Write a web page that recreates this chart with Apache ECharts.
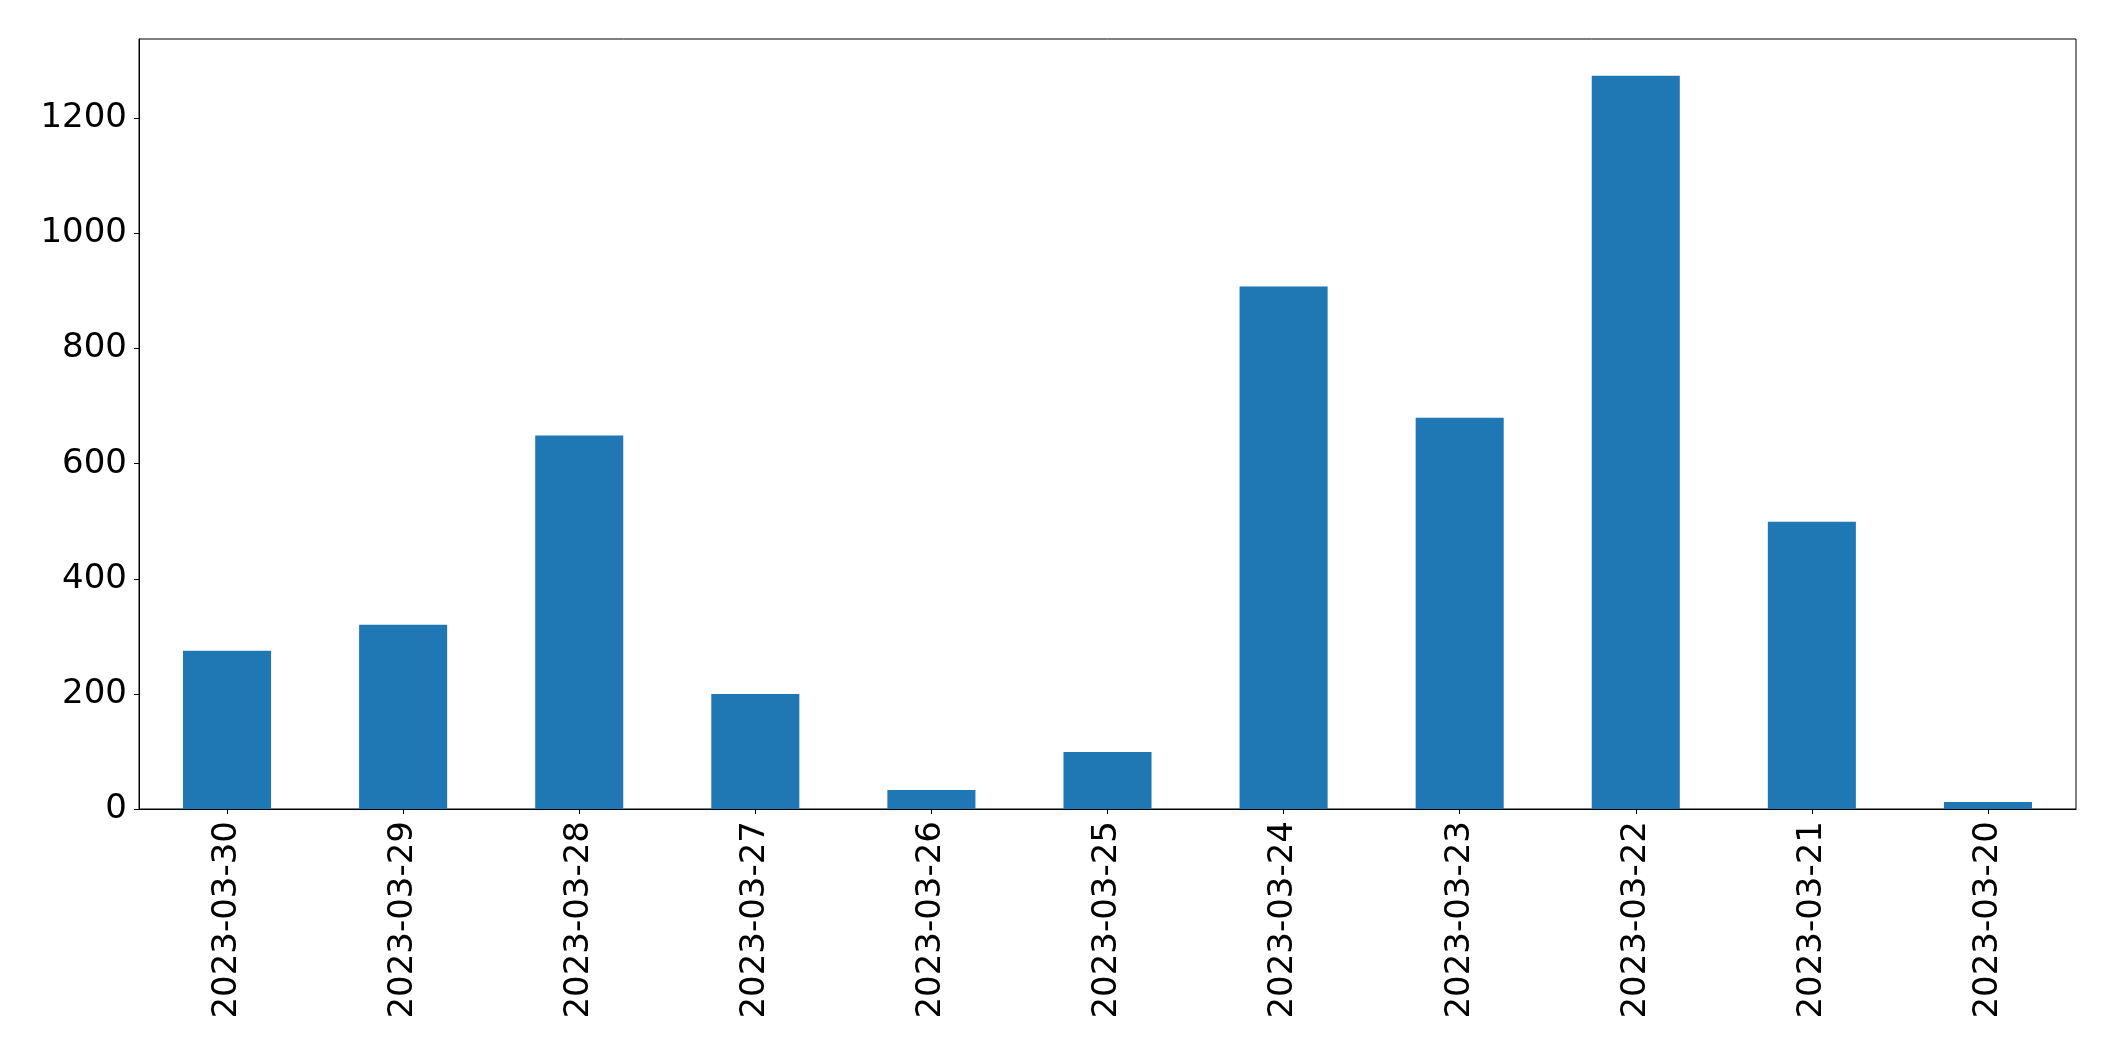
<!DOCTYPE html>
<html>
<head>
<meta charset="utf-8">
<script src="https://cdn.jsdelivr.net/npm/echarts@6/dist/echarts.min.js"></script>
<style>
html,body{margin:0;padding:0;background:#fff;}
#chart{width:2115px;height:1061px;}
</style>
</head>
<body>
<div id="chart"></div>
<script>
const categories = ["2023-03-30","2023-03-29","2023-03-28","2023-03-27","2023-03-26","2023-03-25","2023-03-24","2023-03-23","2023-03-22","2023-03-21","2023-03-20"];
const values = [275, 320, 649, 200, 33, 99, 908, 680, 1274, 499, 12];
const yTicks = [0, 200, 400, 600, 800, 1000, 1200];
const yMax = 1338;

const chart = echarts.init(document.getElementById('chart'), null, {renderer: 'canvas'});
const font = 'DejaVu Sans';
chart.setOption({
  animation: false,
  backgroundColor: '#ffffff',
  grid: {
    left: 139, right: 39, top: 39, bottom: 252,
    show: true, borderColor: '#000', borderWidth: 1, backgroundColor: 'transparent',
    containLabel: false
  },
  xAxis: {
    type: 'category',
    data: categories,
    boundaryGap: true,
    axisLine: {show: true, lineStyle: {color: '#000', width: 1}},
    axisTick: {show: true, alignWithLabel: true, length: 5, lineStyle: {color: '#000', width: 1}},
    axisLabel: {rotate: 90, margin: 12, fontSize: 34, fontFamily: font, color: '#000', interval: 0}
  },
  yAxis: {
    type: 'value',
    min: 0,
    max: yMax,
    interval: 200,
    splitLine: {show: false},
    axisLine: {show: true, lineStyle: {color: '#000', width: 1}},
    axisTick: {show: true, length: 5, lineStyle: {color: '#000', width: 1}, customValues: yTicks},
    axisLabel: {margin: 12, fontSize: 34, fontFamily: font, color: '#000', customValues: yTicks,
      formatter: function (v) { return String(v); }}
  },
  series: [{
    type: 'bar',
    data: values,
    barWidth: '50%',
    itemStyle: {color: '#1f77b4'}
  }]
});
</script>
</body>
</html>
